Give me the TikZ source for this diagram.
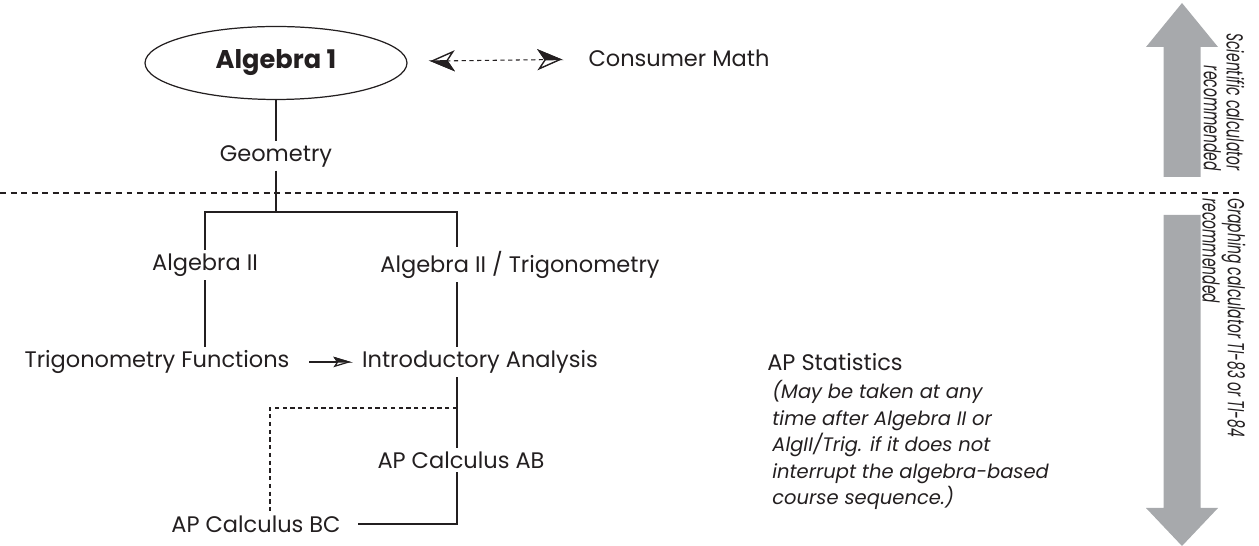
\documentclass[tikz,border=0pt]{standalone}
\usepackage{fontspec}
\setmainfont{Poppins}
\newfontfamily\sidefont[FakeStretch=0.6]{Poppins}
\usetikzlibrary{arrows.meta, shapes.geometric, positioning}
\definecolor{ink}{RGB}{35,31,32}
\definecolor{bargray}{RGB}{167,169,172}
\tikzset{halfhead/.tip={Stealth[open, fill=white, line width=0.8pt, length=14pt, width=12pt, inset=4pt, sep=-14pt] Stealth[left, line width=0.8pt, length=14pt, width=12pt, inset=4pt]}}
\tikzset{thinhead/.tip={Stealth[open, fill=white, length=10pt, width=6pt, inset=2pt, sep=-10pt] Stealth[left, length=10pt, width=6pt, inset=2pt]}}

\begin{document}
\begin{tikzpicture}[x=0.02cm, y=-0.02cm, every node/.style={text=ink}, course/.style={font=\fontsize{12.8}{15}\selectfont, inner sep=2pt}, link/.style={draw=ink, line width=0.7pt}, guide/.style={draw=ink, line width=0.6pt, dash pattern=on 3.4pt off 2.6pt}, side/.style={font=\sidefont\itshape\fontsize{13.2}{13}\selectfont, rotate=-90, inner sep=0pt}]
  \useasboundingbox (0,0) rectangle (1259,546);

  \node[ellipse, draw=ink, line width=0.7pt, minimum width=5.24cm, minimum height=1.46cm, inner sep=0pt, font=\bfseries\fontsize{14.6}{17}\selectfont] (alg1) at (276,63) {Algebra 1};
  \node[course] (consumer) at (679,58) {Consumer Math};
  \node[course] (geom) at (276,156) {Geometry};
  \node[course] (alg2) at (205,265) {Algebra II};
  \node[course] (alg2trig) at (520,265) {Algebra II / Trigonometry};
  \node[course] (trigfn) at (157,362) {Trigonometry Functions};
  \node[course] (intro) at (480,362) {Introductory Analysis};
  \node[course] (apab) at (461,460) {AP Calculus AB};
  \node[course] (apbc) at (256,524) {AP Calculus BC};
  \node[course] (apstat) at (835,362) {AP Statistics};
  \node[anchor=north west, align=left, inner sep=0pt, font=\itshape\fontsize{11.1}{15.1}\selectfont] (note) at (772,380) {(May be taken at any\\time after Algebra II or\\AlgII/Trig. if it does not\\interrupt the algebra-based\\course sequence.)};

  \coordinate (fork) at (276,212);
  \coordinate (rail) at (457,212);
  \coordinate (bcbend) at (270,408);

  \draw[guide] (0,193) -- (1240,193);
  \draw[link] (alg1) -- (geom);
  \draw[link] (geom) -- (fork);
  \draw[link] (alg2.north) |- (rail) -- (rail |- alg2trig.north);
  \draw[link] (alg2.south) -- (alg2.south |- trigfn.north);
  \draw[link] (rail |- alg2trig.south) -- (rail |- intro.north);
  \draw[link] (rail |- intro.south) -- (rail |- apab.north);
  \draw[link, shorten >=8pt] (rail |- apab.south) |- (apbc);
  \draw[guide, dash pattern=on 2.4pt off 2pt] (rail |- bcbend) -| (bcbend |- apbc.north);
  \draw[guide, dash pattern=on 2.4pt off 2pt, halfhead-halfhead, shorten <=12pt, shorten >=12pt] (alg1) -- (consumer);
  \draw[link, -thinhead, shorten <=9pt, shorten >=3pt] (trigfn) -- (intro);

  \fill[bargray] (1163.5,177) -- (1163.5,47) -- (1146,47) -- (1182,3) -- (1218,47) -- (1200.5,47) -- (1200.5,177) -- cycle;
  \fill[bargray] (1163.5,215) -- (1163.5,508) -- (1146,508) -- (1182,546) -- (1218,508) -- (1200.5,508) -- (1200.5,215) -- cycle;
  \node[side, anchor=east, align=right] (scical) at (1224,171) {Scientific calculator\\recommended};
  \node[side, anchor=west, align=left] (graphcal) at (1224,198) {Graphing calculator TI-83 or TI-84\\recommended};
\end{tikzpicture}
\end{document}
